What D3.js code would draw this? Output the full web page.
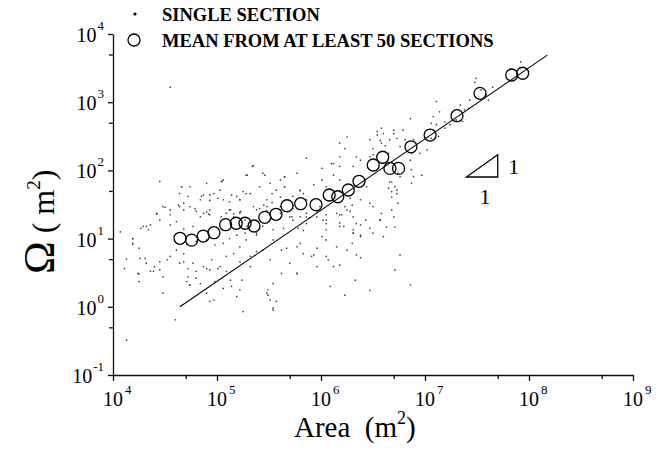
<!DOCTYPE html>
<html>
<head>
<meta charset="utf-8">
<script src="https://cdn.jsdelivr.net/npm/d3@7"></script>
<style>
  html, body { margin: 0; padding: 0; background: #fff; }
  svg { display: block; font-family: "Liberation Serif", "Times New Roman", serif; }
</style>
</head>
<body>
<svg id="chart" width="664" height="452"></svg>
<script>
// Decade exponents used for the log tick labels
const xTickExponents = [4, 5, 6, 7, 8, 9];
const yTickExponents = [-1, 0, 1, 2, 3, 4];

// Binned means (at least 50 sections per bin)
const meanArea  = [4.41e4, 5.71e4, 7.38e4, 9.35e4, 1.21e5, 1.53e5, 1.86e5, 2.27e5, 2.88e5,
                   3.69e5, 4.71e5, 6.38e5, 8.96e5, 1.20e6, 1.45e6, 1.83e6, 2.32e6, 3.18e6,
                   3.92e6, 4.60e6, 5.57e6, 7.33e6, 1.12e7, 2.03e7, 3.38e7, 6.82e7, 8.69e7];
const meanOmega = [10.1, 9.5, 10.9, 12.2, 16.0, 16.8, 16.8, 15.3, 20.5,
                   22.7, 30.3, 32.5, 31.4, 43.6, 41.1, 51.6, 69.2, 120,
                   156, 107, 107, 222, 330, 634, 1349, 2506, 2656];

// Fitted power law (end points)
const fitArea  = [4.4e4, 1.5e8];
const fitOmega = [1.0, 4900];

// Slope-1 reference triangle
const slopeArea  = [2.5e7, 5e7, 5e7];
const slopeOmega = [80, 80, 170];

// Single sections, as [log10 Area, log10 Omega]
const singleLog10 = [
  [4.45,1.84],[4.66,1.76],[5.04,1.84],[5.28,1.93],[5.34,2.06],[5.44,1.96],[5.65,1.90],[5.86,2.18],
  [6.01,1.86],[5.80,1.70],[5.65,1.76],[5.61,1.61],[5.48,1.57],[5.53,1.53],[5.22,1.57],[5.28,1.66],
  [5.12,1.54],[5.01,1.59],[4.93,1.56],[4.87,1.64],[4.72,1.62],[4.63,1.49],[4.50,1.46],[4.42,1.36],
  [4.32,1.18],[4.27,1.15],[4.19,1.00],[4.19,0.92],[4.34,1.13],[4.55,1.20],[4.61,1.25],[4.68,1.14],
  [4.77,1.18],[4.84,1.32],[4.93,1.42],[4.92,1.36],[4.80,1.40],[5.04,1.32],[5.12,1.42],[5.16,1.36],
  [5.23,1.40],[5.27,1.27],[5.41,1.44],[5.48,1.41],[5.51,1.36],[5.59,1.44],[5.73,1.27],[5.70,1.32],
  [5.80,1.32],[5.89,1.30],[5.96,1.40],[6.02,1.27],[6.05,1.13],[5.78,1.15],[5.83,1.12],[5.86,1.22],
  [5.64,1.15],[5.54,1.13],[5.44,1.18],[5.38,1.05],[5.27,1.08],[5.19,1.05],[5.12,1.00],[5.06,0.93],
  [4.98,0.91],[4.90,0.98],[4.80,0.96],[4.71,0.91],[4.68,0.78],[4.61,0.83],[4.55,0.74],[4.45,0.66],
  [4.40,0.59],[4.26,0.71],[4.24,0.49],[4.36,0.52],[4.48,0.44],[4.64,0.64],[4.72,0.56],[4.80,0.52],
  [4.90,0.56],[4.95,0.69],[5.03,0.59],[5.09,0.52],[5.22,0.66],[5.32,0.59],[5.24,0.39],[5.14,0.30],
  [5.19,0.15],[5.06,0.27],[4.98,0.37],[4.90,0.20],[4.93,0.08],[4.84,0.34],[4.74,0.32],[4.48,0.20],
  [4.72,0.44],[5.25,-0.07],[5.48,0.20],[5.54,-0.02],[5.57,0.08],[5.54,0.34],[5.62,0.49],[5.70,0.64],
  [5.77,0.49],[5.83,0.78],[5.91,0.74],[5.96,0.86],[6.01,1.03],[6.05,0.98],[5.96,0.59],[6.07,0.69],
  [5.38,0.81],[5.44,0.83],[5.51,0.69],[5.32,0.74],[5.67,0.86],[5.28,0.98],
  [6.58,2.62],[6.54,2.52],[6.57,2.44],[6.50,2.32],[6.62,2.36],[6.73,2.47],[6.23,2.32],[6.12,2.10],
  [6.18,2.06],[6.31,2.06],[6.38,2.15],[6.47,2.20],[6.05,1.76],[6.18,1.69],[6.28,1.59],[6.23,1.47],
  [6.31,1.32],[6.47,1.52],[6.57,1.27],[6.66,1.83],[6.68,1.61],[6.73,1.71],[6.65,1.74],[6.68,1.42],
  [6.60,1.03],[6.47,1.15],[6.38,1.20],[6.31,1.08],[6.18,1.23],[6.28,1.40],[6.38,1.57],[6.50,1.47],
  [6.44,1.76],
  [5.35,2.07],[5.65,1.91],[5.65,1.76],[5.80,1.71],[5.83,1.66],[5.93,1.79],[5.05,1.84],[5.03,1.71],
  [4.93,1.64],[4.87,1.37],[4.74,1.47],[4.64,1.47],[4.48,1.47],[4.42,1.36],[4.66,1.76],[4.85,1.62],
  [5.14,1.64],[5.22,1.57],[5.25,1.69],[5.29,1.93],[5.46,1.93],[5.53,1.66],[5.57,1.71],[5.73,1.62],
  [5.86,1.57],[5.99,1.47],[6.05,1.35],[6.15,1.37],[5.72,1.32],[5.61,1.37],
  [6.58,1.37],[6.57,1.27],[6.34,1.22],[6.38,1.05],[6.30,0.93],[6.34,0.76],[6.12,0.59],[6.09,0.30],
  [5.93,0.76],[5.80,0.93],[5.77,0.49],[5.54,-0.05],[5.51,0.10],[5.49,0.17],[4.60,-0.19],[4.74,0.32],
  [4.80,0.42],[4.39,0.52],[4.31,0.71],[6.25,1.42],[6.20,1.35],[6.30,1.49],[6.43,1.27],
  [7.92,3.59],[7.91,3.50],[7.49,3.35],[7.54,3.18],[7.59,3.11],[7.61,3.03],[7.43,3.03],[7.38,2.89],
  [7.34,2.96],[7.42,2.91],[7.11,3.01],[7.08,2.79],[7.06,2.69],[7.11,2.67],[7.19,2.71],[7.19,2.62],
  [7.13,2.50],[7.06,2.47],[7.02,2.30],[6.95,2.25],[6.86,2.76],[6.89,2.45],[6.87,2.25],[6.86,2.15],
  [6.87,2.01],[6.89,1.91],[6.87,1.81],[6.97,1.93],[6.79,2.59],[6.81,2.45],[6.76,2.35],[6.70,2.54],
  [6.66,2.45],[6.60,2.54],[6.58,2.40],[6.74,1.96],[6.76,1.91],[6.71,1.76],[6.73,1.66],[6.74,1.52],
  [6.68,1.83],[6.71,1.17],[6.57,1.27],[6.68,1.69],[7.30,2.74],[7.24,2.67],[7.36,2.72],[7.14,2.86],
  [7.48,3.29],[7.65,3.22],
  [4.07,1.10],[4.19,1.00],[4.19,0.93],[4.25,0.86],[4.13,0.70],[4.11,0.56],[4.25,0.48],[4.25,0.37],
  [4.13,-0.49],[4.55,3.22],
  [4.42,1.37],[4.55,1.35],[4.68,1.42],[4.79,1.44],[4.90,1.39],[4.93,1.35],[5.09,1.37],[5.16,1.32],
  [5.22,1.39],[5.35,1.47],[5.45,1.49],[5.61,1.42],[5.73,1.49],[5.86,1.32],[6.05,1.27],[6.18,1.35],
  [6.22,1.18],[6.31,1.08],[6.38,1.03],[6.15,0.88],[6.25,0.83],[6.05,0.74],[5.77,0.88],[5.62,0.83],
  [5.54,0.98],[5.38,1.08],[5.29,1.18],[5.22,0.88],[5.16,0.78],[5.09,0.74],[5.01,0.56],[4.93,0.54],
  [4.87,0.59],[4.77,0.64],[4.68,0.66],[4.52,0.69],[4.45,0.54],[4.32,0.64],[4.71,0.37],[4.97,0.10],
  [5.13,0.39],[5.22,0.25],[5.49,0.25],
  [6.10,2.10],[6.01,2.03],[6.12,1.93],[6.18,1.86],[5.77,1.96],[5.61,1.86],[5.51,1.81],[5.41,1.76],
  [5.32,1.66],[5.19,1.62],[5.06,1.57],[4.97,1.66],[4.84,1.57],[4.68,1.52],[4.55,1.42],[4.45,1.27],
  [4.36,1.20],[4.29,1.18],[5.06,1.86],[4.90,1.81],[4.74,1.76],[4.64,1.66],[5.13,1.42],[5.22,1.37],
  [5.38,1.42],[5.48,1.47],[5.61,1.47],[5.73,1.44],[5.86,1.37],[5.96,1.32],[6.05,1.22],[6.18,1.18],
  [6.31,1.13],[6.50,1.08],[6.70,1.32],[6.63,1.17],[6.18,2.40],[6.25,2.49],[6.47,2.45],[6.54,2.57],
  [6.70,2.59],[6.65,2.25],[6.50,2.23],[6.34,2.20],[6.18,2.20],
  [6.18,0.61],[6.33,0.39],[6.47,0.24],[6.71,0.54],[6.76,0.76],[6.86,0.32],[6.23,0.17],[6.38,0.72]
];

const legendLabels = ["SINGLE SECTION", "MEAN FROM AT LEAST 50 SECTIONS"];

const svg = d3.select("#chart");
svg.append("rect").attr("width", 664).attr("height", 452).attr("fill", "#fff");

const x = d3.scaleLog().domain([1e4, 1e9]).range([113, 633]);
const y = d3.scaleLog().domain([1e-1, 1e4]).range([375, 34]);

// Axes: major ticks at decades, minor ticks at 5 x 10^n
const xMajor = xTickExponents.map(e => Math.pow(10, e));
const yMajor = yTickExponents.map(e => Math.pow(10, e));
const xMinor = xMajor.slice(0, -1).map(v => 5 * v);
const yMinor = yMajor.slice(0, -1).map(v => 5 * v);

function styleAxis(g) {
  g.selectAll("path, line").attr("stroke", "#111").attr("stroke-width", 1.3);
}

svg.append("g").attr("transform", "translate(0,375)")
  .call(d3.axisBottom(x).tickValues(xMajor).tickFormat("").tickSize(6).tickSizeOuter(0))
  .call(styleAxis);
svg.append("g").attr("transform", "translate(0,375)")
  .call(d3.axisBottom(x).tickValues(xMinor).tickFormat("").tickSize(4).tickSizeOuter(0))
  .call(g => g.select(".domain").remove())
  .call(styleAxis);
svg.append("g").attr("transform", "translate(113,0)")
  .call(d3.axisLeft(y).tickValues(yMajor).tickFormat("").tickSize(5).tickSizeOuter(0))
  .call(styleAxis);
svg.append("g").attr("transform", "translate(113,0)")
  .call(d3.axisLeft(y).tickValues(yMinor).tickFormat("").tickSize(4).tickSizeOuter(0))
  .call(g => g.select(".domain").remove())
  .call(styleAxis);

// Tick labels as powers of ten
const xLab = svg.append("g").attr("fill", "#000");
xTickExponents.forEach(e => {
  const px = x(Math.pow(10, e));
  xLab.append("text").attr("x", px).attr("y", 406)
    .attr("text-anchor", "middle").attr("font-size", 20).text("10");
  xLab.append("text").attr("x", px + 12).attr("y", 394)
    .attr("font-size", 13).text(e);
});
const yLab = svg.append("g").attr("fill", "#000");
yTickExponents.forEach(e => {
  const py = y(Math.pow(10, e));
  const t = yLab.append("text").attr("x", 104).attr("y", py + 8)
    .attr("text-anchor", "end").attr("font-size", 20);
  t.append("tspan").text("10");
  t.append("tspan").attr("dy", -12).attr("dx", 1).attr("font-size", 13).text(e);
});

// Axis titles
const xt = svg.append("text").attr("x", 294).attr("y", 437).attr("font-size", 29).attr("fill", "#000");
xt.append("tspan").text("Area\u00a0\u00a0(m");
xt.append("tspan").attr("dy", -13).attr("font-size", 18).text("2");
xt.append("tspan").attr("dy", 13).text(")");

const yt = svg.append("text").attr("transform", "translate(54,274) rotate(-90)")
  .attr("font-size", 32).attr("fill", "#000");
yt.append("tspan").attr("font-size", 44).text("\u03A9");
yt.append("tspan").text("\u00a0(\u00a0m");
yt.append("tspan").attr("dy", -14).attr("font-size", 19).text("2");
yt.append("tspan").attr("dy", 14).text(")");

// Single-section scatter
svg.append("g").selectAll("circle").data(singleLog10).join("circle")
  .attr("cx", d => x(Math.pow(10, d[0])))
  .attr("cy", d => y(Math.pow(10, d[1])))
  .attr("r", 0.85)
  .attr("fill", "#444");

// Fitted line
svg.append("path")
  .datum(fitArea.map((a, i) => [a, fitOmega[i]]))
  .attr("d", d3.line().x(d => x(d[0])).y(d => y(d[1])))
  .attr("fill", "none").attr("stroke", "#000").attr("stroke-width", 1.1);

// Binned means
svg.append("g").selectAll("circle").data(meanArea.map((a, i) => [a, meanOmega[i]])).join("circle")
  .attr("cx", d => x(d[0])).attr("cy", d => y(d[1]))
  .attr("r", 6).attr("fill", "none").attr("stroke", "#000").attr("stroke-width", 1.3);

// Slope triangle
const tri = slopeArea.map((a, i) => [x(a), y(slopeOmega[i])]);
svg.append("path").attr("d", "M" + tri.join("L") + "Z")
  .attr("fill", "none").attr("stroke", "#000").attr("stroke-width", 1.3);
svg.append("text").attr("x", tri[1][0] + 16).attr("y", (tri[1][1] + tri[2][1]) / 2 + 8)
  .attr("text-anchor", "middle").attr("font-size", 22).text("1");
svg.append("text").attr("x", (tri[0][0] + tri[1][0]) / 2 + 3).attr("y", tri[0][1] + 27)
  .attr("text-anchor", "middle").attr("font-size", 22).text("1");

// Legend
const lg = svg.append("g");
lg.append("circle").attr("cx", 135).attr("cy", 14).attr("r", 1.6).attr("fill", "#000");
lg.append("circle").attr("cx", 134).attr("cy", 40).attr("r", 6)
  .attr("fill", "none").attr("stroke", "#000").attr("stroke-width", 1.3);
lg.selectAll("text").data(legendLabels).join("text")
  .attr("x", 162).attr("y", (d, i) => 21 + i * 26)
  .attr("font-size", 18.5).attr("font-weight", "bold").attr("fill", "#000")
  .text(d => d);
</script>
</body>
</html>
